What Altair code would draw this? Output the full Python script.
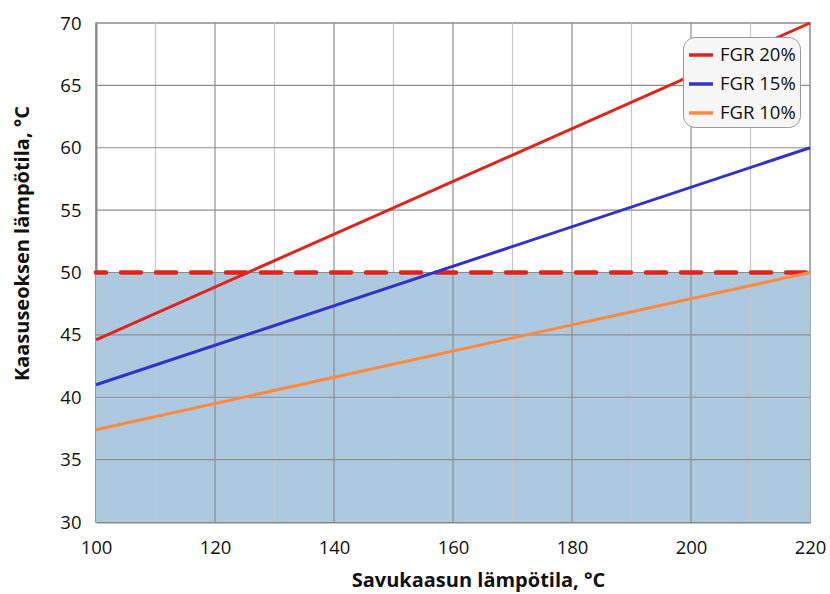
import altair as alt
import pandas as pd

# Data
x_vals = [100, 220]
fgr20 = [44.6, 70.0]
fgr15 = [41.0, 60.0]
fgr10 = [37.4, 50.0]
series_names = ["FGR 20%", "FGR 15%", "FGR 10%"]
series_colors = ["#e0241c", "#3232c8", "#ff8a3d"]
limit_value = 50
x_ticks = [100, 120, 140, 160, 180, 200, 220]
x_minor = [110, 130, 150, 170, 190, 210]
y_ticks = [30, 35, 40, 45, 50, 55, 60, 65, 70]

FONT = "Open Sans"

rows = []
for name, vals in zip(series_names, [fgr20, fgr15, fgr10]):
    for xv, yv in zip(x_vals, vals):
        rows.append({"x": xv, "y": yv, "series": name})
lines_df = pd.DataFrame(rows)

xs = alt.Scale(domain=[100, 220], nice=False)
ys = alt.Scale(domain=[30, 70], nice=False)

x_axis = alt.Axis(values=x_ticks, title="Savukaasun lämpötila, °C", grid=False,
                  labelFontSize=18.5, labelFont=FONT, labelColor="#111",
                  labelPadding=16, labelFlush=False, tickSize=0, domainColor="#888",
                  domainWidth=2, titleFont=FONT, titleFontSize=20,
                  titleFontWeight="bold", titleColor="#111",
                  titleX=382, titleY=58, titleBaseline="middle")
y_axis = alt.Axis(values=y_ticks, title="Kaasuseoksen lämpötila, °C", grid=False,
                  labelFontSize=18.5, labelFont=FONT, labelColor="#111",
                  labelPadding=15, labelFlush=False, tickSize=0, domainColor="#888",
                  domainWidth=2, titleFont=FONT, titleFontSize=20,
                  titleFontWeight="bold", titleColor="#111",
                  titleX=-74, titleY=220, titleBaseline="middle",
                  titleAlign="center", titleAngle=-90)

X = alt.X("x:Q", scale=xs, axis=x_axis)
Y = alt.Y("y:Q", scale=ys, axis=y_axis)

fill_df = pd.DataFrame({"x": [100], "x2": [220], "y": [30], "y2": [limit_value]})
fill = alt.Chart(fill_df).mark_rect(color="#adc9e0").encode(
    x=X, x2="x2:Q", y=Y, y2="y2:Q")

minor_df = pd.DataFrame({"x": x_minor})
minor = alt.Chart(minor_df).mark_rule(color="#c6c6c6", strokeWidth=1.2).encode(x=X)

xmaj_df = pd.DataFrame({"x": x_ticks[1:-1]})
xmaj = alt.Chart(xmaj_df).mark_rule(color="#8e8e8e", strokeWidth=1.2).encode(x=X)

ymaj_df = pd.DataFrame({"y": y_ticks[1:-1]})
ymaj = alt.Chart(ymaj_df).mark_rule(color="#8e8e8e", strokeWidth=1.2).encode(y=Y)

limit_df = pd.DataFrame({"x": [100], "x2": [220], "y": [limit_value]})
limit = alt.Chart(limit_df).mark_rule(
    color="#e0241c", strokeWidth=4.5, strokeDash=[20, 15], strokeDashOffset=10,
    strokeCap="round").encode(x=X, x2="x2:Q", y=Y)

lines = alt.Chart(lines_df).mark_line(strokeWidth=3).encode(
    x=X, y=Y,
    color=alt.Color("series:N",
                    scale=alt.Scale(domain=series_names, range=series_colors),
                    legend=alt.Legend(title=None, orient="none", legendX=587, legendY=14,
                                      symbolType="stroke", symbolSize=576,
                                      symbolStrokeWidth=3.5, labelFontSize=18.5,
                                      labelFont=FONT, labelColor="#111",
                                      fillColor="#f7f7f7", strokeColor="#9a9a9a",
                                      cornerRadius=12, padding=4, rowPadding=5,
                                      labelOffset=5)),
)

chart = alt.layer(fill, minor, xmaj, ymaj, limit, lines).properties(
    width=714, height=499,
    padding={"left": 96, "top": 23, "right": 20, "bottom": 72},
    autosize=alt.AutoSizeParams(type="none"),
    background="white",
).configure_view(stroke="#8c8c8c", strokeWidth=1.5)

chart.save("out.html", embed_options={"renderer": "svg", "actions": False})
